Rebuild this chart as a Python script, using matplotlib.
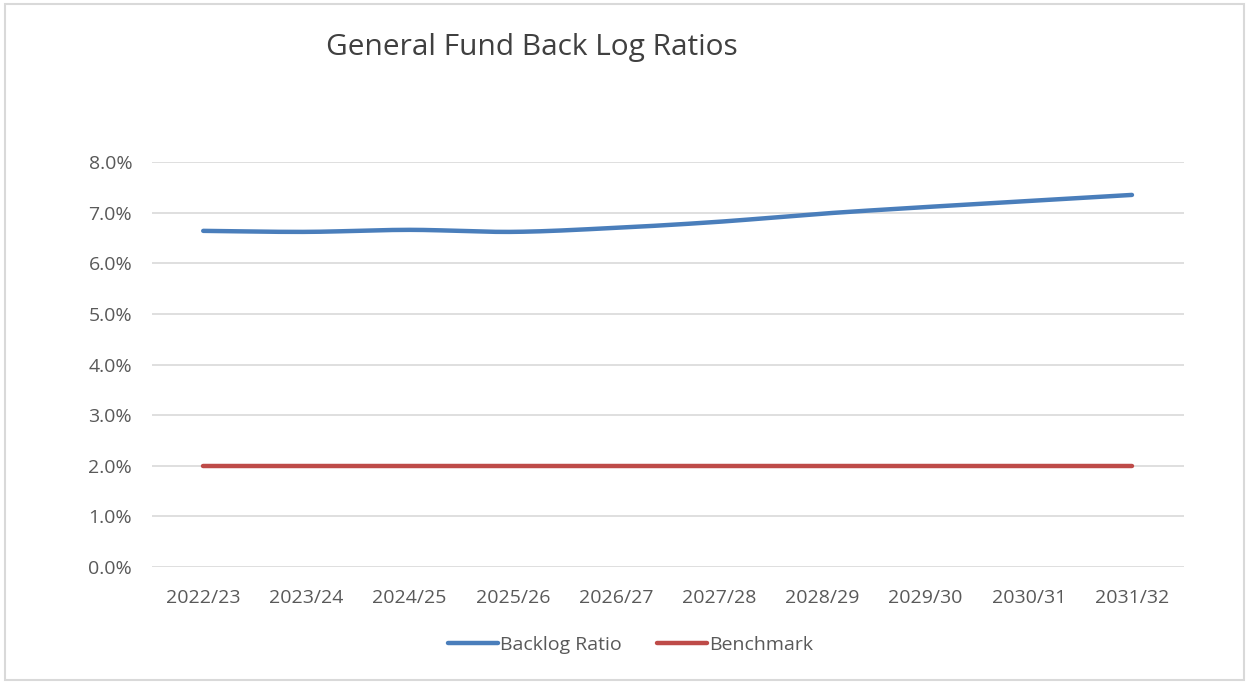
import numpy as np
import matplotlib
matplotlib.use("Agg")
import matplotlib.pyplot as plt
from matplotlib.patches import Rectangle
from matplotlib.ticker import FuncFormatter

categories = ["2022/23", "2023/24", "2024/25", "2025/26", "2026/27",
              "2027/28", "2028/29", "2029/30", "2030/31", "2031/32"]
backlog_ratio = [0.0664, 0.0662, 0.0666, 0.0662, 0.0670,
                 0.0682, 0.0698, 0.0711, 0.0723, 0.0735]
benchmark = [0.02] * 10
y_ticks = [0.0, 0.01, 0.02, 0.03, 0.04, 0.05, 0.06, 0.07, 0.08]

def catmull_rom(x, y, n=30):
    x = np.asarray(x, float); y = np.asarray(y, float)
    px = np.concatenate([[2*x[0]-x[1]], x, [2*x[-1]-x[-2]]])
    py = np.concatenate([[2*y[0]-y[1]], y, [2*y[-1]-y[-2]]])
    xs, ys = [], []
    for i in range(1, len(px)-2):
        t = np.linspace(0, 1, n, endpoint=False)
        for P, out in ((px, xs), (py, ys)):
            p0, p1, p2, p3 = P[i-1], P[i], P[i+1], P[i+2]
            out.append(0.5*((2*p1) + (-p0+p2)*t + (2*p0-5*p1+4*p2-p3)*t**2
                            + (-p0+3*p1-3*p2+p3)*t**3))
    xs.append([x[-1]]); ys.append([y[-1]])
    return np.concatenate(xs), np.concatenate(ys)

plt.rcParams['font.family'] = ['Open Sans', 'DejaVu Sans']
txt = '#595959'
fig = plt.figure(figsize=(12.49, 6.83), dpi=100)
fig.patches.append(Rectangle((0.004, 0.004), 0.992, 0.99, transform=fig.transFigure,
                             fill=False, edgecolor='#d9d9d9', linewidth=1.5))
ax = fig.add_axes([0.1214, 0.1698, 0.8262, 0.593])
x = np.arange(len(categories))
sx, sy = catmull_rom(x, backlog_ratio)
ax.plot(sx, sy, color='#4a7ebb', linewidth=3.2, solid_capstyle='round', label='Backlog Ratio')
ax.plot(x, benchmark, color='#be4b48', linewidth=3.2, solid_capstyle='round', label='Benchmark')
ax.set_xlim(-0.5, len(categories) - 0.5)
ax.set_ylim(0, 0.08)
ax.set_yticks(y_ticks)
ax.yaxis.set_major_formatter(FuncFormatter(lambda v, p: f"{v*100:.1f}%"))
ax.set_xticks(x)
ax.set_xticklabels(categories)
ax.grid(axis='y', color='#d9d9d9', linewidth=1.2)
ax.set_axisbelow(True)
for s in ax.spines.values():
    s.set_visible(False)
ax.tick_params(axis='both', length=0, labelsize=14, colors=txt)
ax.tick_params(axis='x', pad=16)
ax.tick_params(axis='y', pad=14)
fig.text(0.426, 0.930, "General Fund Back Log Ratios", ha='center', va='center',
         fontsize=21.5, color='#404040')
leg = ax.legend(loc='center', bbox_to_anchor=(0.464, -0.193), ncol=2, frameon=False,
                fontsize=14, handlelength=2.6, handletextpad=0.1, columnspacing=1.8)
for t in leg.get_texts():
    t.set_color(txt)
fig.savefig("out.png", dpi=100)
